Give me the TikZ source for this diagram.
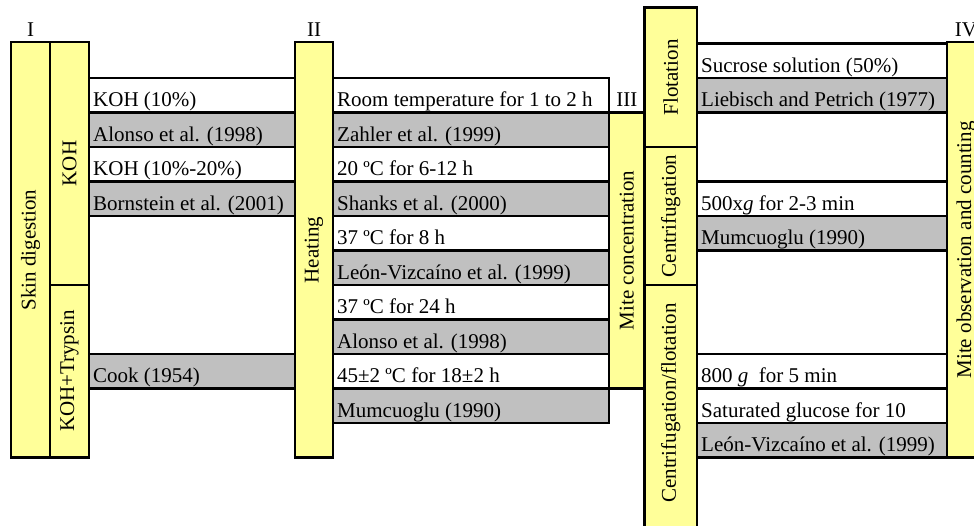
\documentclass[tikz,border=0pt]{standalone}
\usepackage{fontspec}
\setmainfont{Liberation Serif}
\definecolor{stageyellow}{HTML}{FFFF99}
\definecolor{refgray}{HTML}{C0C0C0}
\tikzset{
	grid/.style={draw=black, line width=2.2pt},
	stage/.style={grid, fill=stageyellow},
	cellbox/.style={grid, fill=#1},
	celltext/.style={anchor=base west, inner sep=0pt},
	stagetext/.style={rotate=90, inner sep=0pt},
	stagenum/.style={anchor=base, inner sep=0pt}
}
\begin{document}
\begin{tikzpicture}[x=1pt, y=-1pt, font=\fontsize{21}{25}\selectfont]
	\useasboundingbox (0,0) rectangle (974,525);
	\clip (0,0) rectangle (974,525);
	% rows between I and II
	\foreach \r/\f/\t [count=\i] in {0/white/{KOH (10\%)}, 1/refgray/{Alonso et al. (1998)}, 2/white/{KOH (10\%-20\%)}, 3/refgray/{Bornstein et al. (2001)}, 8/refgray/{Cook (1954)}}{
		\draw[cellbox=\f] (89,{78+34.5*\r}) rectangle (295,{112.5+34.5*\r});
		\node[celltext] (dig\i) at (93,{106.5+34.5*\r}) {\t};
	}
	% rows between II and III
	\foreach \r/\f/\t [count=\i] in {0/white/{Room temperature for 1 to 2 h}, 1/refgray/{Zahler et al. (1999)}, 2/white/{20 ºC for 6-12 h}, 3/refgray/{Shanks et al. (2000)}, 4/white/{37 ºC for 8 h}, 5/refgray/{León-Vizcaíno et al. (1999)}, 6/white/{37 ºC for 24 h}, 7/refgray/{Alonso et al. (1998)}, 8/white/{45±2 ºC for 18±2 h}, 9/refgray/{Mumcuoglu (1990)}}{
		\draw[cellbox=\f] (333,{78+34.5*\r}) rectangle (609,{112.5+34.5*\r});
		\node[celltext] (heat\i) at (337,{106.5+34.5*\r}) {\t};
	}
	% rows between III and IV
	\foreach \r/\f/\t [count=\i] in {-1/white/{Sucrose solution (50\%)}, 0/refgray/{Liebisch and Petrich (1977)}, 3/white/{500x\textit{g} for 2-3 min}, 4/refgray/{Mumcuoglu (1990)}, 8/white/{800 \textit{g}~ for 5 min}, 9/white/{Saturated glucose for 10}, 10/refgray/{León-Vizcaíno et al. (1999)}}{
		\draw[cellbox=\f] (697,{78+34.5*\r}) rectangle (947,{112.5+34.5*\r});
		\node[celltext] (conc\i) at (701,{106.5+34.5*\r}) {\t};
	}
	% stage columns
	\draw[stage] (11,42) rectangle (50,457.5);
	\node[stagetext] (skin) at (30.5,250) {Skin digestion};
	\draw[stage] (50,42) rectangle (89,285);
	\node[stagetext] (koh) at (69.5,163.5) {KOH};
	\draw[stage] (50,285) rectangle (89,457.5);
	\node[stagetext] (kohtryp) at (69.5,371) {KOH+Trypsin};
	\draw[stage] (295,42) rectangle (333,457.5);
	\node[stagetext] (heating) at (314,250) {Heating};
	\draw[stage] (609,112.5) rectangle (644.5,388.5);
	\node[stagetext] (mitecon) at (626.8,250.5) {Mite concentration};
	\draw[stage] (644.5,7.5) rectangle (697,147);
	\node[stagetext] (flot) at (670.8,77.3) {Flotation};
	\draw[stage] (644.5,147) rectangle (697,285);
	\node[stagetext] (centr) at (670.8,216) {Centrifugation};
	\draw[stage] (644.5,285) rectangle (697,540);
	\node[stagetext] (cenflot) at (670.8,403) {Centrifugation/flotation};
	\draw[stage] (947,42) rectangle (985,457.5);
	\node[stagetext] (count) at (966,249.8) {Mite observation and counting};
	% stage numbers
	\node[stagenum] (numI) at (30.5,36.5) {I};
	\node[stagenum] (numII) at (314,36.5) {II};
	\node[stagenum] (numIII) at (626.8,106.5) {III};
	\node[stagenum] (numIV) at (966,36.5) {IV};
\end{tikzpicture}
\end{document}
